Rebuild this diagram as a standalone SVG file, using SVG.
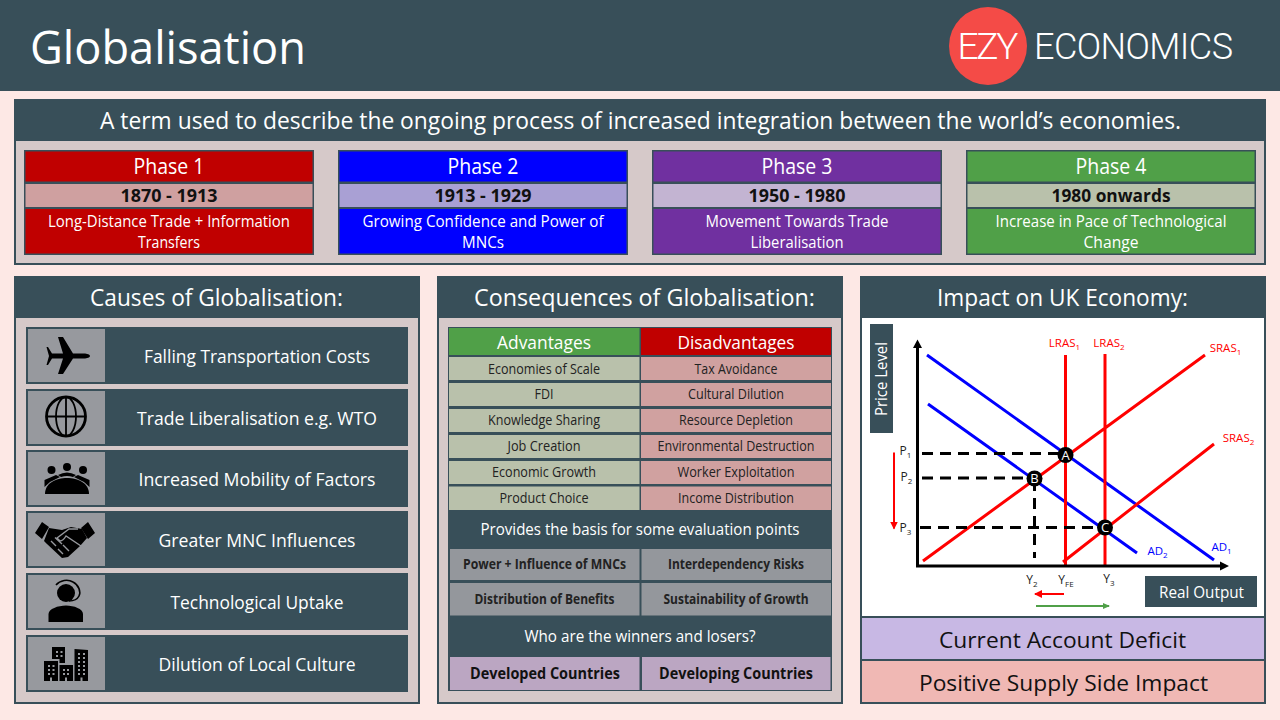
<svg xmlns="http://www.w3.org/2000/svg" width="1280" height="720" viewBox="0 0 1280 720">
<style>
text{font-family:"Open Sans","Liberation Sans",sans-serif;text-anchor:middle;fill:#fff}
.k{fill:#111}
.b{font-weight:700}
.dark{fill:#384f59}
.body{fill:#d6c9c9}
.blue{stroke:#0000ff;stroke-width:3;fill:none}
.red{stroke:#ff0000;stroke-width:3;fill:none}
.dash{stroke:#000;stroke-width:3;stroke-dasharray:11 7;fill:none}
.cl{font-size:11.500px;fill:#ff0000}
.bl{font-size:11.500px;fill:#0000ff}
.ax{font-size:12px;fill:#222}
.sub{font-size:8px}
.m{font-size:13px;fill:#fff}
.rowt{font-size:17.500px}
.td{font-size:14px;fill:#222}
.icon{fill:#97999e}
</style>
<defs>
<marker id="ah" markerWidth="10" markerHeight="10" refX="7" refY="4" orient="auto" markerUnits="userSpaceOnUse"><path d="M0 0L8 4L0 8Z" fill="#ff0000"/></marker>
<marker id="ag" markerWidth="10" markerHeight="10" refX="6" refY="3" orient="auto" markerUnits="userSpaceOnUse"><path d="M0 0L7 3L0 6Z" fill="#50a048"/></marker>
</defs>
<rect width="1280" height="720" fill="#fde8e5"/>
<g id="header">
<rect width="1280" height="91" class="dark"/>
<text x="168" y="64" font-size="46" textLength="276" lengthAdjust="spacingAndGlyphs">Globalisation</text>
<circle cx="988" cy="46" r="39" fill="#f44b47"/>
<text x="988" y="59" style="font-family:Roboto,'Open Sans',sans-serif" font-weight="300" font-size="37" textLength="61" lengthAdjust="spacing">EZY</text>
<text x="1133.500" y="59" style="font-family:Roboto,'Open Sans',sans-serif" font-weight="300" font-size="36" textLength="199" lengthAdjust="spacing">ECONOMICS</text>
</g>
<g id="definition">
<rect x="14" y="99" width="1252" height="166" class="dark"/>
<rect x="16" y="141" width="1248" height="122" class="body"/>
<text x="640.500" y="129" font-size="23.500" textLength="1081" lengthAdjust="spacingAndGlyphs">A term used to describe the ongoing process of increased integration between the world’s economies.</text>
</g>
<g id="phase1">
<rect x="24" y="150" width="290" height="105" class="dark"/>
<rect x="25.500" y="151.500" width="287" height="30" fill="#c00000"/><rect x="25.500" y="184" width="287" height="23" fill="#cfa0a0"/><rect x="25.500" y="209" width="287" height="44.500" fill="#c00000"/>
<text x="169" y="174" font-size="21" textLength="71" lengthAdjust="spacingAndGlyphs">Phase 1</text>
<text x="169" y="202" font-size="17.500" class="k b" textLength="97" lengthAdjust="spacingAndGlyphs">1870 - 1913</text>
<text x="169" y="227" font-size="15.500" textLength="242" lengthAdjust="spacingAndGlyphs">Long-Distance Trade + Information</text>
<text x="169" y="248" font-size="15.500" textLength="62" lengthAdjust="spacingAndGlyphs">Transfers</text>
</g>
<g id="phase2">
<rect x="338" y="150" width="290" height="105" class="dark"/>
<rect x="339.500" y="151.500" width="287" height="30" fill="#0000ff"/><rect x="339.500" y="184" width="287" height="23" fill="#a9a0d4"/><rect x="339.500" y="209" width="287" height="44.500" fill="#0000ff"/>
<text x="483" y="174" font-size="21" textLength="71" lengthAdjust="spacingAndGlyphs">Phase 2</text>
<text x="483" y="202" font-size="17.500" class="k b" textLength="97" lengthAdjust="spacingAndGlyphs">1913 - 1929</text>
<text x="483" y="227" font-size="15.500" textLength="241" lengthAdjust="spacingAndGlyphs">Growing Confidence and Power of</text>
<text x="483" y="248" font-size="15.500" textLength="42" lengthAdjust="spacingAndGlyphs">MNCs</text>
</g>
<g id="phase3">
<rect x="652" y="150" width="290" height="105" class="dark"/>
<rect x="653.500" y="151.500" width="287" height="30" fill="#7030a0"/><rect x="653.500" y="184" width="287" height="23" fill="#c3b4d2"/><rect x="653.500" y="209" width="287" height="44.500" fill="#7030a0"/>
<text x="797" y="174" font-size="21" textLength="71" lengthAdjust="spacingAndGlyphs">Phase 3</text>
<text x="797" y="202" font-size="17.500" class="k b" textLength="97" lengthAdjust="spacingAndGlyphs">1950 - 1980</text>
<text x="797" y="227" font-size="15.500" textLength="183" lengthAdjust="spacingAndGlyphs">Movement Towards Trade</text>
<text x="797" y="248" font-size="15.500" textLength="93" lengthAdjust="spacingAndGlyphs">Liberalisation</text>
</g>
<g id="phase4">
<rect x="966" y="150" width="290" height="105" class="dark"/>
<rect x="967.500" y="151.500" width="287" height="30" fill="#50a048"/><rect x="967.500" y="184" width="287" height="23" fill="#b9c1ab"/><rect x="967.500" y="209" width="287" height="44.500" fill="#50a048"/>
<text x="1111" y="174" font-size="21" textLength="71" lengthAdjust="spacingAndGlyphs">Phase 4</text>
<text x="1111" y="202" font-size="17.500" class="k b" textLength="119" lengthAdjust="spacingAndGlyphs">1980 onwards</text>
<text x="1111" y="227" font-size="15.500" textLength="231" lengthAdjust="spacingAndGlyphs">Increase in Pace of Technological</text>
<text x="1111" y="248" font-size="15.500" textLength="55" lengthAdjust="spacingAndGlyphs">Change</text>
</g>
<g id="causes">
<rect x="14" y="276" width="406" height="428" class="dark"/>
<rect x="16" y="318" width="402" height="384" class="body"/>
<text x="216.500" y="306" font-size="23" textLength="253" lengthAdjust="spacingAndGlyphs">Causes of Globalisation:</text>
</g>
<g id="cause1">
<rect x="26" y="327" width="382" height="57" class="dark"/><rect x="28" y="329" width="77" height="53" class="icon"/>
<path d="M90 356C90 354.500 87 353.500 84 353.500L73 353.500L63 337L58 337L63 353.500L52 353.500L48 347L46.500 347L49 356L46.500 365L48 365L52 358.500L63 358.500L58 374L63 374L73 358.500L84 358.500C87 358.500 90 357.500 90 356Z" fill="#000"/>
<text x="257" y="363" class="rowt" textLength="226" lengthAdjust="spacingAndGlyphs">Falling Transportation Costs</text>
</g>
<g id="cause2">
<rect x="26" y="389" width="382" height="57" class="dark"/><rect x="28" y="391" width="77" height="53" class="icon"/>
<g fill="none" stroke="#000" stroke-width="1.800"><circle cx="66" cy="416.500" r="19.500" stroke-width="2.800"/><ellipse cx="66" cy="416.500" rx="10" ry="19.500"/><path d="M66 397V436M46.500 416.500H85.500"/></g>
<text x="257" y="425" class="rowt" textLength="240" lengthAdjust="spacingAndGlyphs">Trade Liberalisation e.g. WTO</text>
</g>
<g id="cause3">
<rect x="26" y="450" width="382" height="57" class="dark"/><rect x="28" y="452" width="77" height="53" class="icon"/>
<g fill="#000"><circle cx="67" cy="467" r="4"/><circle cx="51.500" cy="470" r="4"/><circle cx="83" cy="470" r="4"/>
<path d="M45 494C45 483 56 478 67 478C78 478 89 483 89 494Z"/>
<path d="M44.500 487V480L56 475L60 477L50 482ZM89.500 487V480L78 475L74 477L84 482ZM58 475Q67 470 76 475L73 477Q67 475 61 477Z"/></g>
<text x="257" y="486" class="rowt" textLength="237" lengthAdjust="spacingAndGlyphs">Increased Mobility of Factors</text>
</g>
<g id="cause4">
<rect x="26" y="511" width="382" height="57" class="dark"/><rect x="28" y="513" width="77" height="53" class="icon"/>
<g fill="#000"><path d="M35 533L42 522L49 527L42 539ZM95 533L88 522L81 528L88 539Z"/>
<path d="M49 528L62 530L71 527L82 529L87 538L80 546L68 557L62 558L47 544L44 541Z"/></g>
<g fill="none" stroke="#97999e" stroke-width="1.400"><path d="M78 529L69 529L57 538L60 541Q63 541 66 536L81 546"/><path d="M51 541L56 546M55 537.500L62 544M58 549L63 554M63 545L69 551"/></g>
<text x="257" y="547" class="rowt" textLength="197" lengthAdjust="spacingAndGlyphs">Greater MNC Influences</text>
</g>
<g id="cause5">
<rect x="26" y="573" width="382" height="57" class="dark"/><rect x="28" y="575" width="77" height="53" class="icon"/>
<circle cx="66" cy="593" r="9" fill="#000"/>
<path d="M56 585C60 580 68 579 73 582C79 585 81 592 79 596C77 600 72 601 69 601" fill="none" stroke="#000" stroke-width="1.600"/>
<path d="M48.500 622V614C48.500 609 58 605.500 66 605.500C74 605.500 83 609 83 614V622Z" fill="#000"/>
<text x="257" y="609" class="rowt" textLength="173" lengthAdjust="spacingAndGlyphs">Technological Uptake</text>
</g>
<g id="cause6">
<rect x="26" y="635" width="382" height="57" class="dark"/><rect x="28" y="637" width="77" height="53" class="icon"/>
<path d="M52 647H65V663H59.500V659H52ZM44 661H58V681H44ZM59.500 665H73V681H59.500ZM74.500 649L88 650V681H74.500Z" fill="#000"/>
<path d="M56 651h2v2h-2zM60.500 651h2v2h-2zM56 655h2v2h-2zM60.500 655h2v2h-2zM48 665h2v2h-2zM52.500 665h2v2h-2zM48 669h2v2h-2zM52.500 669h2v2h-2zM48 673h2v2h-2zM52.500 673h2v2h-2zM50 677.500h2v3.500h-2zM63 669h2v2h-2zM67 669h2v2h-2zM63 673h2v2h-2zM67 673h2v2h-2zM65 677.500h2v3.500h-2zM78 653h2v2h-2zM83 653h2v2h-2zM78 657h2v2h-2zM83 657h2v2h-2zM78 661h2v2h-2zM83 661h2v2h-2zM78 665h2v2h-2zM83 665h2v2h-2zM78 669h2v2h-2zM83 669h2v2h-2zM78 673h2v2h-2zM83 673h2v2h-2zM80.500 677.500h2v3.500h-2z" fill="#97999e"/>
<text x="257" y="671" class="rowt" textLength="197" lengthAdjust="spacingAndGlyphs">Dilution of Local Culture</text>
</g>
<g id="consequences">
<rect x="437" y="276" width="406" height="428" class="dark"/>
<rect x="439" y="318" width="402" height="384" class="body"/>
<text x="644.500" y="306" font-size="23" textLength="341" lengthAdjust="spacingAndGlyphs">Consequences of Globalisation:</text>
<rect x="448" y="327" width="384" height="364" class="dark"/>
</g>
<g id="advantages">
<rect x="449" y="328" width="190.500" height="27" fill="#50a048"/>
<text x="544" y="349" font-size="18.500" textLength="94" lengthAdjust="spacingAndGlyphs">Advantages</text>
<rect x="449" y="357" width="190.500" height="23" fill="#b9c1ab"/><text x="544" y="373.500" class="td" textLength="112" lengthAdjust="spacingAndGlyphs">Economies of Scale</text>
<rect x="449" y="383" width="190.500" height="23" fill="#b9c1ab"/><text x="544" y="399" class="td" textLength="19" lengthAdjust="spacingAndGlyphs">FDI</text>
<rect x="449" y="409" width="190.500" height="23" fill="#b9c1ab"/><text x="544" y="425" class="td" textLength="112" lengthAdjust="spacingAndGlyphs">Knowledge Sharing</text>
<rect x="449" y="435" width="190.500" height="23" fill="#b9c1ab"/><text x="544" y="451" class="td" textLength="73" lengthAdjust="spacingAndGlyphs">Job Creation</text>
<rect x="449" y="461" width="190.500" height="23" fill="#b9c1ab"/><text x="544" y="477" class="td" textLength="104" lengthAdjust="spacingAndGlyphs">Economic Growth</text>
<rect x="449" y="486.500" width="190.500" height="23.500" fill="#b9c1ab"/><text x="544" y="503" class="td" textLength="89" lengthAdjust="spacingAndGlyphs">Product Choice</text>
</g>
<g id="disadvantages">
<rect x="641" y="328" width="190" height="27" fill="#c00000"/>
<text x="736" y="349" font-size="18.500" textLength="117" lengthAdjust="spacingAndGlyphs">Disadvantages</text>
<rect x="641" y="357" width="190" height="23" fill="#d0a1a0"/><text x="736" y="373.500" class="td" textLength="83" lengthAdjust="spacingAndGlyphs">Tax Avoidance</text>
<rect x="641" y="383" width="190" height="23" fill="#d0a1a0"/><text x="736" y="399" class="td" textLength="96" lengthAdjust="spacingAndGlyphs">Cultural Dilution</text>
<rect x="641" y="409" width="190" height="23" fill="#d0a1a0"/><text x="736" y="425" class="td" textLength="114" lengthAdjust="spacingAndGlyphs">Resource Depletion</text>
<rect x="641" y="435" width="190" height="23" fill="#d0a1a0"/><text x="736" y="451" class="td" textLength="157" lengthAdjust="spacingAndGlyphs">Environmental Destruction</text>
<rect x="641" y="461" width="190" height="23" fill="#d0a1a0"/><text x="736" y="477" class="td" textLength="117" lengthAdjust="spacingAndGlyphs">Worker Exploitation</text>
<rect x="641" y="486.500" width="190" height="23.500" fill="#d0a1a0"/><text x="736" y="502.500" class="td" textLength="116" lengthAdjust="spacingAndGlyphs">Income Distribution</text>
</g>
<g id="evaluation">
<text x="640" y="535" font-size="15.500" textLength="319" lengthAdjust="spacingAndGlyphs">Provides the basis for some evaluation points</text>
<rect x="450" y="549" width="189.500" height="31" fill="#94979c"/><text x="544.500" y="569" class="td b" textLength="163" lengthAdjust="spacingAndGlyphs">Power + Influence of MNCs</text>
<rect x="641.500" y="549" width="189.500" height="31" fill="#94979c"/><text x="736" y="569" class="td b" textLength="136" lengthAdjust="spacingAndGlyphs">Interdependency Risks</text>
<rect x="450" y="583" width="189.500" height="32.500" fill="#94979c"/><text x="544.500" y="604" class="td b" textLength="140" lengthAdjust="spacingAndGlyphs">Distribution of Benefits</text>
<rect x="641.500" y="583" width="189.500" height="32.500" fill="#94979c"/><text x="736" y="604" class="td b" textLength="145" lengthAdjust="spacingAndGlyphs">Sustainability of Growth</text>
</g>
<g id="winners">
<text x="640" y="642" font-size="15.500" textLength="231" lengthAdjust="spacingAndGlyphs">Who are the winners and losers?</text>
<rect x="450" y="657" width="189.500" height="33" fill="#bba6c2"/><text x="545" y="679" font-size="16" class="k b" textLength="150" lengthAdjust="spacingAndGlyphs">Developed Countries</text>
<rect x="642" y="657" width="188.500" height="33" fill="#bba6c2"/><text x="736" y="679" font-size="16" class="k b" textLength="154" lengthAdjust="spacingAndGlyphs">Developing Countries</text>
</g>
<g id="impact">
<rect x="860" y="276" width="406" height="428" class="dark"/>
<rect x="862" y="318" width="402" height="298" fill="#fff"/>
<text x="1062.500" y="306" font-size="23" textLength="251" lengthAdjust="spacingAndGlyphs">Impact on UK Economy:</text>
</g>
<g id="connectors">
<path d="M927 355L1214 560M928 404L1137 553" class="blue"/>
<path d="M923 561L1205 355M1063 562L1214 444M1065.500 355V565M1105 354V565" class="red"/>
<path d="M922 453.500H1062M922 478H1032M920 527.500H1100M1034.500 480V558" class="dash"/>
<path d="M917.500 345V566H1222" fill="none" stroke="#000" stroke-width="3"/>
<path d="M917.500 339.500L913 348H922ZM1229 566L1220 561.500V570.500Z" fill="#000"/>
<path d="M894 452.500V528.500" fill="none" stroke="#ff0000" stroke-width="2" marker-end="url(#ah)"/>
<path d="M1064 594H1035" fill="none" stroke="#ff0000" stroke-width="2" marker-end="url(#ah)"/>
<path d="M1036 606H1109" fill="none" stroke="#50a048" stroke-width="2" marker-end="url(#ag)"/>
</g>
<g id="pointA"><circle cx="1065.500" cy="455" r="8" fill="#000"/><text x="1065.500" y="459.500" class="m">A</text></g>
<g id="pointB"><circle cx="1034.500" cy="478.500" r="8" fill="#000"/><text x="1034.500" y="483" class="m">B</text></g>
<g id="pointC"><circle cx="1105" cy="527.500" r="8" fill="#000"/><text x="1105" y="532" class="m">C</text></g>
<g id="chart-labels">
<g transform="translate(870 324)"><rect width="23" height="109" class="dark"/><text transform="translate(17 55) rotate(-90)" font-size="16.500" textLength="74" lengthAdjust="spacingAndGlyphs">Price Level</text></g>
<rect x="1145" y="576" width="112" height="31" class="dark"/>
<text x="1201.500" y="597.500" font-size="16" textLength="85" lengthAdjust="spacingAndGlyphs">Real Output</text>
<text x="1064.500" y="347" class="cl">LRAS<tspan class="sub" dy="3">1</tspan></text>
<text x="1109" y="347" class="cl">LRAS<tspan class="sub" dy="3">2</tspan></text>
<text x="1225.500" y="351.500" class="cl">SRAS<tspan class="sub" dy="3">1</tspan></text>
<text x="1238.500" y="441.500" class="cl">SRAS<tspan class="sub" dy="3">2</tspan></text>
<text x="1157.500" y="555" class="bl">AD<tspan class="sub" dy="3">2</tspan></text>
<text x="1221.500" y="551" class="bl">AD<tspan class="sub" dy="3">1</tspan></text>
<text x="905.500" y="455" class="ax">P<tspan class="sub" dy="3">1</tspan></text>
<text x="906.500" y="481" class="ax">P<tspan class="sub" dy="3">2</tspan></text>
<text x="905.500" y="532" class="ax">P<tspan class="sub" dy="3">3</tspan></text>
<text x="1032" y="584" class="ax">Y<tspan class="sub" dy="3">2</tspan></text>
<text x="1066" y="584" class="ax">Y<tspan class="sub" dy="3">FE</tspan></text>
<text x="1109" y="583" class="ax">Y<tspan class="sub" dy="3">3</tspan></text>
</g>
<g id="current-account">
<rect x="861" y="617" width="404" height="43" fill="#c8b8e4" stroke="#384f59" stroke-width="2"/>
<text x="1062.500" y="648" font-size="22" class="k" textLength="247" lengthAdjust="spacingAndGlyphs">Current Account Deficit</text>
</g>
<g id="supply-side">
<rect x="861" y="660" width="404" height="43" fill="#f0b8b4" stroke="#384f59" stroke-width="2"/>
<text x="1063.500" y="691" font-size="22" class="k" textLength="289" lengthAdjust="spacingAndGlyphs">Positive Supply Side Impact</text>
</g>
</svg>
